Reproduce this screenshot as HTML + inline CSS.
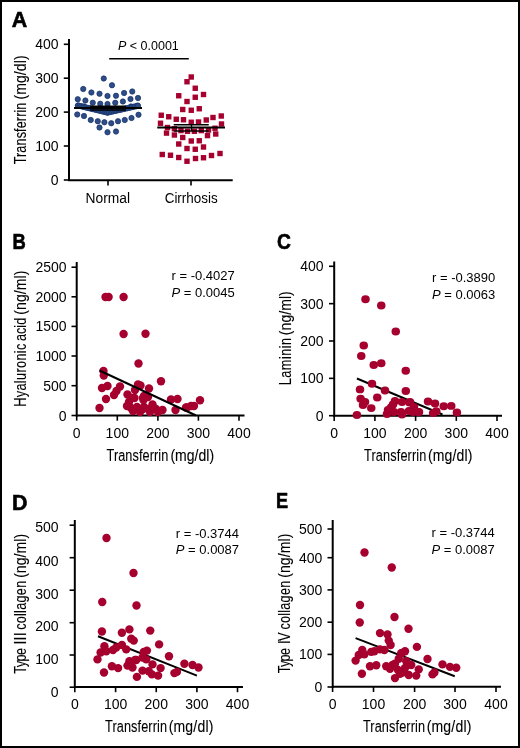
<!DOCTYPE html><html><head><meta charset="utf-8"><style>html,body{margin:0;padding:0;background:#fff}svg{display:block;will-change:transform}text{font-family:"Liberation Sans",sans-serif}</style></head><body>
<svg width="520" height="748" viewBox="0 0 520 748">
<rect x="0" y="0" width="520" height="748" fill="#fff"/>
<rect x="1" y="1" width="518" height="746" fill="none" stroke="#000" stroke-width="2"/>
<text transform="translate(11.8,26.8) scale(1.0,1)" x="0" y="0" font-size="21.4" font-weight="bold" fill="#000" stroke="#000" stroke-width="0.6">A</text>
<line x1="69" y1="39" x2="69" y2="181" stroke="#000" stroke-width="2"/>
<line x1="63.8" y1="44.3" x2="69" y2="44.3" stroke="#000" stroke-width="1.6"/>
<line x1="63.8" y1="78.2" x2="69" y2="78.2" stroke="#000" stroke-width="1.6"/>
<line x1="63.8" y1="112.1" x2="69" y2="112.1" stroke="#000" stroke-width="1.6"/>
<line x1="63.8" y1="146" x2="69" y2="146" stroke="#000" stroke-width="1.6"/>
<line x1="63.8" y1="180" x2="69" y2="180" stroke="#000" stroke-width="1.6"/>
<text x="58.6" y="48.9" font-size="14" text-anchor="end" fill="#000" >400</text>
<text x="58.6" y="82.8" font-size="14" text-anchor="end" fill="#000" >300</text>
<text x="58.6" y="116.69999999999999" font-size="14" text-anchor="end" fill="#000" >200</text>
<text x="58.6" y="150.6" font-size="14" text-anchor="end" fill="#000" >100</text>
<text x="58.6" y="184.6" font-size="14" text-anchor="end" fill="#000" >0</text>
<line x1="68" y1="180.2" x2="232.7" y2="180.2" stroke="#000" stroke-width="2"/>
<line x1="108" y1="180.2" x2="108" y2="185.5" stroke="#000" stroke-width="1.6"/>
<line x1="191" y1="180.2" x2="191" y2="185.5" stroke="#000" stroke-width="1.6"/>
<text x="107.8" y="202.8" font-size="14" text-anchor="middle" textLength="44.5" lengthAdjust="spacingAndGlyphs" fill="#000" >Normal</text>
<text x="191.2" y="202.8" font-size="14" text-anchor="middle" textLength="53" lengthAdjust="spacingAndGlyphs" fill="#000" >Cirrhosis</text>
<text x="118" y="50.2" font-size="12.5" fill="#000"><tspan font-style="italic">P</tspan> &lt; 0.0001</text>
<line x1="109.2" y1="58.8" x2="188.8" y2="58.8" stroke="#000" stroke-width="1.5"/>
<text transform="translate(26,164.29) rotate(-90) scale(0.78,1)" x="0" y="0" font-size="16.3" textLength="79.12" lengthAdjust="spacing" fill="#000" stroke="#000" stroke-width="0.1">Transferrin</text>
<text transform="translate(26,99.57) rotate(-90) scale(0.86,1)" x="0" y="0" font-size="16.3" textLength="51.31" lengthAdjust="spacing" fill="#000" stroke="#000" stroke-width="0.1">(mg/dl)</text>
<circle cx="103.75" cy="78.5" r="2.65" fill="#2f4c84" stroke="#183670" stroke-width="0.75"/>
<circle cx="112" cy="85.25" r="2.65" fill="#2f4c84" stroke="#183670" stroke-width="0.75"/>
<circle cx="83.25" cy="89" r="2.65" fill="#2f4c84" stroke="#183670" stroke-width="0.75"/>
<circle cx="91.4" cy="92.5" r="2.65" fill="#2f4c84" stroke="#183670" stroke-width="0.75"/>
<circle cx="99.5" cy="93.75" r="2.65" fill="#2f4c84" stroke="#183670" stroke-width="0.75"/>
<circle cx="107.5" cy="96" r="2.65" fill="#2f4c84" stroke="#183670" stroke-width="0.75"/>
<circle cx="116" cy="95.75" r="2.65" fill="#2f4c84" stroke="#183670" stroke-width="0.75"/>
<circle cx="124.1" cy="93" r="2.65" fill="#2f4c84" stroke="#183670" stroke-width="0.75"/>
<circle cx="132.25" cy="91.5" r="2.65" fill="#2f4c84" stroke="#183670" stroke-width="0.75"/>
<circle cx="77.75" cy="99.25" r="2.65" fill="#2f4c84" stroke="#183670" stroke-width="0.75"/>
<circle cx="85.4" cy="100.5" r="2.65" fill="#2f4c84" stroke="#183670" stroke-width="0.75"/>
<circle cx="92.75" cy="102.75" r="2.65" fill="#2f4c84" stroke="#183670" stroke-width="0.75"/>
<circle cx="100.25" cy="103.75" r="2.65" fill="#2f4c84" stroke="#183670" stroke-width="0.75"/>
<circle cx="107.5" cy="104" r="2.65" fill="#2f4c84" stroke="#183670" stroke-width="0.75"/>
<circle cx="115.25" cy="102.75" r="2.65" fill="#2f4c84" stroke="#183670" stroke-width="0.75"/>
<circle cx="122.9" cy="101.5" r="2.65" fill="#2f4c84" stroke="#183670" stroke-width="0.75"/>
<circle cx="130.5" cy="99" r="2.65" fill="#2f4c84" stroke="#183670" stroke-width="0.75"/>
<circle cx="138" cy="98" r="2.65" fill="#2f4c84" stroke="#183670" stroke-width="0.75"/>
<circle cx="78" cy="105.6" r="2.65" fill="#2f4c84" stroke="#183670" stroke-width="0.75"/>
<circle cx="137.5" cy="105.6" r="2.65" fill="#2f4c84" stroke="#183670" stroke-width="0.75"/>
<circle cx="84" cy="106.5" r="2.65" fill="#2f4c84" stroke="#183670" stroke-width="0.75"/>
<circle cx="131" cy="106.5" r="2.65" fill="#2f4c84" stroke="#183670" stroke-width="0.75"/>
<circle cx="77.25" cy="114.5" r="2.65" fill="#2f4c84" stroke="#183670" stroke-width="0.75"/>
<circle cx="84" cy="116" r="2.65" fill="#2f4c84" stroke="#183670" stroke-width="0.75"/>
<circle cx="90.75" cy="120" r="2.65" fill="#2f4c84" stroke="#183670" stroke-width="0.75"/>
<circle cx="97.75" cy="121.25" r="2.65" fill="#2f4c84" stroke="#183670" stroke-width="0.75"/>
<circle cx="104.4" cy="122.25" r="2.65" fill="#2f4c84" stroke="#183670" stroke-width="0.75"/>
<circle cx="111.25" cy="123.25" r="2.65" fill="#2f4c84" stroke="#183670" stroke-width="0.75"/>
<circle cx="118" cy="121.25" r="2.65" fill="#2f4c84" stroke="#183670" stroke-width="0.75"/>
<circle cx="124.75" cy="120" r="2.65" fill="#2f4c84" stroke="#183670" stroke-width="0.75"/>
<circle cx="131.5" cy="118" r="2.65" fill="#2f4c84" stroke="#183670" stroke-width="0.75"/>
<circle cx="138.5" cy="114.75" r="2.65" fill="#2f4c84" stroke="#183670" stroke-width="0.75"/>
<circle cx="99.5" cy="127.5" r="2.65" fill="#2f4c84" stroke="#183670" stroke-width="0.75"/>
<circle cx="107.5" cy="132.25" r="2.65" fill="#2f4c84" stroke="#183670" stroke-width="0.75"/>
<circle cx="116" cy="131.5" r="2.65" fill="#2f4c84" stroke="#183670" stroke-width="0.75"/>
<circle cx="78.0" cy="105.5" r="2.65" fill="#2f4c84" stroke="#183670" stroke-width="0.75"/>
<circle cx="79.47" cy="105.86" r="2.65" fill="#2f4c84" stroke="#183670" stroke-width="0.75"/>
<circle cx="80.95" cy="106.21" r="2.65" fill="#2f4c84" stroke="#183670" stroke-width="0.75"/>
<circle cx="82.42" cy="106.56" r="2.65" fill="#2f4c84" stroke="#183670" stroke-width="0.75"/>
<circle cx="83.9" cy="106.92" r="2.65" fill="#2f4c84" stroke="#183670" stroke-width="0.75"/>
<circle cx="85.38" cy="107.28" r="2.65" fill="#2f4c84" stroke="#183670" stroke-width="0.75"/>
<circle cx="86.85" cy="107.63" r="2.65" fill="#2f4c84" stroke="#183670" stroke-width="0.75"/>
<circle cx="88.32" cy="107.98" r="2.65" fill="#2f4c84" stroke="#183670" stroke-width="0.75"/>
<circle cx="89.8" cy="108.34" r="2.65" fill="#2f4c84" stroke="#183670" stroke-width="0.75"/>
<circle cx="91.28" cy="108.7" r="2.65" fill="#2f4c84" stroke="#183670" stroke-width="0.75"/>
<circle cx="92.75" cy="109.05" r="2.65" fill="#2f4c84" stroke="#183670" stroke-width="0.75"/>
<circle cx="94.22" cy="109.4" r="2.65" fill="#2f4c84" stroke="#183670" stroke-width="0.75"/>
<circle cx="95.7" cy="109.76" r="2.65" fill="#2f4c84" stroke="#183670" stroke-width="0.75"/>
<circle cx="97.18" cy="110.12" r="2.65" fill="#2f4c84" stroke="#183670" stroke-width="0.75"/>
<circle cx="98.65" cy="110.47" r="2.65" fill="#2f4c84" stroke="#183670" stroke-width="0.75"/>
<circle cx="100.12" cy="110.82" r="2.65" fill="#2f4c84" stroke="#183670" stroke-width="0.75"/>
<circle cx="101.6" cy="111.18" r="2.65" fill="#2f4c84" stroke="#183670" stroke-width="0.75"/>
<circle cx="103.08" cy="111.54" r="2.65" fill="#2f4c84" stroke="#183670" stroke-width="0.75"/>
<circle cx="104.55" cy="111.89" r="2.65" fill="#2f4c84" stroke="#183670" stroke-width="0.75"/>
<circle cx="106.02" cy="112.24" r="2.65" fill="#2f4c84" stroke="#183670" stroke-width="0.75"/>
<circle cx="107.5" cy="112.6" r="2.65" fill="#2f4c84" stroke="#183670" stroke-width="0.75"/>
<circle cx="107.5" cy="112.6" r="2.65" fill="#2f4c84" stroke="#183670" stroke-width="0.75"/>
<circle cx="109.02" cy="112.26" r="2.65" fill="#2f4c84" stroke="#183670" stroke-width="0.75"/>
<circle cx="110.55" cy="111.92" r="2.65" fill="#2f4c84" stroke="#183670" stroke-width="0.75"/>
<circle cx="112.08" cy="111.58" r="2.65" fill="#2f4c84" stroke="#183670" stroke-width="0.75"/>
<circle cx="113.6" cy="111.24" r="2.65" fill="#2f4c84" stroke="#183670" stroke-width="0.75"/>
<circle cx="115.12" cy="110.9" r="2.65" fill="#2f4c84" stroke="#183670" stroke-width="0.75"/>
<circle cx="116.65" cy="110.56" r="2.65" fill="#2f4c84" stroke="#183670" stroke-width="0.75"/>
<circle cx="118.18" cy="110.22" r="2.65" fill="#2f4c84" stroke="#183670" stroke-width="0.75"/>
<circle cx="119.7" cy="109.88" r="2.65" fill="#2f4c84" stroke="#183670" stroke-width="0.75"/>
<circle cx="121.22" cy="109.54" r="2.65" fill="#2f4c84" stroke="#183670" stroke-width="0.75"/>
<circle cx="122.75" cy="109.2" r="2.65" fill="#2f4c84" stroke="#183670" stroke-width="0.75"/>
<circle cx="124.28" cy="108.86" r="2.65" fill="#2f4c84" stroke="#183670" stroke-width="0.75"/>
<circle cx="125.8" cy="108.52" r="2.65" fill="#2f4c84" stroke="#183670" stroke-width="0.75"/>
<circle cx="127.32" cy="108.18" r="2.65" fill="#2f4c84" stroke="#183670" stroke-width="0.75"/>
<circle cx="128.85" cy="107.84" r="2.65" fill="#2f4c84" stroke="#183670" stroke-width="0.75"/>
<circle cx="130.38" cy="107.5" r="2.65" fill="#2f4c84" stroke="#183670" stroke-width="0.75"/>
<circle cx="131.9" cy="107.16" r="2.65" fill="#2f4c84" stroke="#183670" stroke-width="0.75"/>
<circle cx="133.43" cy="106.82" r="2.65" fill="#2f4c84" stroke="#183670" stroke-width="0.75"/>
<circle cx="134.95" cy="106.48" r="2.65" fill="#2f4c84" stroke="#183670" stroke-width="0.75"/>
<circle cx="136.48" cy="106.14" r="2.65" fill="#2f4c84" stroke="#183670" stroke-width="0.75"/>
<circle cx="138.0" cy="105.8" r="2.65" fill="#2f4c84" stroke="#183670" stroke-width="0.75"/>
<line x1="74" y1="108" x2="142" y2="108" stroke="#000" stroke-width="2"/>
<line x1="90" y1="106.2" x2="126" y2="106.2" stroke="#000" stroke-width="1.4"/>
<line x1="90" y1="110" x2="126" y2="110" stroke="#000" stroke-width="1.4"/>
<line x1="108" y1="106.2" x2="108" y2="110" stroke="#000" stroke-width="1.4"/>
<rect x="188.55" y="74.3" width="5.4" height="5.4" fill="#a6002f"/>
<rect x="184.3" y="79.05" width="5.4" height="5.4" fill="#a6002f"/>
<rect x="192.55" y="85.55" width="5.4" height="5.4" fill="#a6002f"/>
<rect x="176.05" y="93.05" width="5.4" height="5.4" fill="#a6002f"/>
<rect x="192.55" y="94.55" width="5.4" height="5.4" fill="#a6002f"/>
<rect x="200.8" y="91.8" width="5.4" height="5.4" fill="#a6002f"/>
<rect x="184.3" y="98.8" width="5.4" height="5.4" fill="#a6002f"/>
<rect x="180.05" y="106.8" width="5.4" height="5.4" fill="#a6002f"/>
<rect x="188.55" y="107.55" width="5.4" height="5.4" fill="#a6002f"/>
<rect x="196.55" y="106.05" width="5.4" height="5.4" fill="#a6002f"/>
<rect x="158.55" y="112.55" width="5.4" height="5.4" fill="#a6002f"/>
<rect x="166.05" y="114.05" width="5.4" height="5.4" fill="#a6002f"/>
<rect x="173.55" y="116.55" width="5.4" height="5.4" fill="#a6002f"/>
<rect x="180.8" y="117.05" width="5.4" height="5.4" fill="#a6002f"/>
<rect x="188.55" y="119.55" width="5.4" height="5.4" fill="#a6002f"/>
<rect x="195.8" y="119.3" width="5.4" height="5.4" fill="#a6002f"/>
<rect x="203.55" y="117.3" width="5.4" height="5.4" fill="#a6002f"/>
<rect x="210.3" y="114.8" width="5.4" height="5.4" fill="#a6002f"/>
<rect x="218.55" y="113.3" width="5.4" height="5.4" fill="#a6002f"/>
<rect x="157.8" y="120.55" width="5.4" height="5.4" fill="#a6002f"/>
<rect x="218.8" y="121.3" width="5.4" height="5.4" fill="#a6002f"/>
<rect x="164.8" y="124.8" width="5.4" height="5.4" fill="#a6002f"/>
<rect x="171.70000000000002" y="126.05" width="5.4" height="5.4" fill="#a6002f"/>
<rect x="205.8" y="127.3" width="5.4" height="5.4" fill="#a6002f"/>
<rect x="212.3" y="125.55" width="5.4" height="5.4" fill="#a6002f"/>
<rect x="163.8" y="130.4" width="5.4" height="5.4" fill="#a6002f"/>
<rect x="171.70000000000002" y="132.3" width="5.4" height="5.4" fill="#a6002f"/>
<rect x="178.3" y="127.89999999999999" width="5.4" height="5.4" fill="#a6002f"/>
<rect x="184.8" y="128.55" width="5.4" height="5.4" fill="#a6002f"/>
<rect x="191.70000000000002" y="128.55" width="5.4" height="5.4" fill="#a6002f"/>
<rect x="198.55" y="127.89999999999999" width="5.4" height="5.4" fill="#a6002f"/>
<rect x="204.8" y="132.9" width="5.4" height="5.4" fill="#a6002f"/>
<rect x="213.05" y="131.3" width="5.4" height="5.4" fill="#a6002f"/>
<rect x="180.05" y="134.8" width="5.4" height="5.4" fill="#a6002f"/>
<rect x="188.55" y="138.3" width="5.4" height="5.4" fill="#a6002f"/>
<rect x="196.55" y="138.05" width="5.4" height="5.4" fill="#a6002f"/>
<rect x="176.05" y="141.3" width="5.4" height="5.4" fill="#a6002f"/>
<rect x="184.3" y="145.8" width="5.4" height="5.4" fill="#a6002f"/>
<rect x="192.55" y="146.55" width="5.4" height="5.4" fill="#a6002f"/>
<rect x="200.8" y="144.3" width="5.4" height="5.4" fill="#a6002f"/>
<rect x="159.55" y="151.8" width="5.4" height="5.4" fill="#a6002f"/>
<rect x="167.8" y="152.55" width="5.4" height="5.4" fill="#a6002f"/>
<rect x="176.05" y="154.8" width="5.4" height="5.4" fill="#a6002f"/>
<rect x="184.3" y="158.55" width="5.4" height="5.4" fill="#a6002f"/>
<rect x="192.8" y="155.8" width="5.4" height="5.4" fill="#a6002f"/>
<rect x="200.8" y="155.05" width="5.4" height="5.4" fill="#a6002f"/>
<rect x="208.8" y="152.8" width="5.4" height="5.4" fill="#a6002f"/>
<rect x="217.3" y="150.8" width="5.4" height="5.4" fill="#a6002f"/>
<line x1="157.25" y1="127.5" x2="225" y2="127.5" stroke="#000" stroke-width="2"/>
<line x1="173.75" y1="124.75" x2="208.75" y2="124.75" stroke="#000" stroke-width="1.4"/>
<line x1="173.75" y1="131" x2="208.75" y2="131" stroke="#000" stroke-width="1.4"/>
<line x1="191.5" y1="124.75" x2="191.5" y2="131" stroke="#000" stroke-width="1.4"/>
<text transform="translate(12.4,249.3) scale(0.86,1)" x="0" y="0" font-size="21.4" font-weight="bold" fill="#000" stroke="#000" stroke-width="0.6">B</text>
<line x1="76.7" y1="262" x2="76.7" y2="416.5" stroke="#000" stroke-width="2"/>
<line x1="71.5" y1="267.2" x2="76.7" y2="267.2" stroke="#000" stroke-width="1.6"/>
<line x1="71.5" y1="296.8" x2="76.7" y2="296.8" stroke="#000" stroke-width="1.6"/>
<line x1="71.5" y1="326.4" x2="76.7" y2="326.4" stroke="#000" stroke-width="1.6"/>
<line x1="71.5" y1="356" x2="76.7" y2="356" stroke="#000" stroke-width="1.6"/>
<line x1="71.5" y1="385.7" x2="76.7" y2="385.7" stroke="#000" stroke-width="1.6"/>
<line x1="71.5" y1="415.5" x2="76.7" y2="415.5" stroke="#000" stroke-width="1.6"/>
<text x="66.6" y="272.2" font-size="14" text-anchor="end" fill="#000" >2500</text>
<text x="66.6" y="301.8" font-size="14" text-anchor="end" fill="#000" >2000</text>
<text x="66.6" y="331.4" font-size="14" text-anchor="end" fill="#000" >1500</text>
<text x="66.6" y="361" font-size="14" text-anchor="end" fill="#000" >1000</text>
<text x="66.6" y="390.7" font-size="14" text-anchor="end" fill="#000" >500</text>
<text x="66.6" y="420.5" font-size="14" text-anchor="end" fill="#000" >0</text>
<line x1="76" y1="415.5" x2="244.5" y2="415.5" stroke="#000" stroke-width="2"/>
<line x1="76.7" y1="415.5" x2="76.7" y2="420.7" stroke="#000" stroke-width="1.6"/>
<line x1="117.3" y1="415.5" x2="117.3" y2="420.7" stroke="#000" stroke-width="1.6"/>
<line x1="157.9" y1="415.5" x2="157.9" y2="420.7" stroke="#000" stroke-width="1.6"/>
<line x1="198.4" y1="415.5" x2="198.4" y2="420.7" stroke="#000" stroke-width="1.6"/>
<line x1="239" y1="415.5" x2="239" y2="420.7" stroke="#000" stroke-width="1.6"/>
<text x="76.7" y="438" font-size="14" text-anchor="middle" fill="#000" >0</text>
<text x="117.3" y="438" font-size="14" text-anchor="middle" fill="#000" >100</text>
<text x="157.9" y="438" font-size="14" text-anchor="middle" fill="#000" >200</text>
<text x="198.4" y="438" font-size="14" text-anchor="middle" fill="#000" >300</text>
<text x="239" y="438" font-size="14" text-anchor="middle" fill="#000" >400</text>
<text transform="translate(106.51,460.5) scale(0.78,1)" x="0" y="0" font-size="16.3" textLength="79.25" lengthAdjust="spacing" fill="#000" stroke="#000" stroke-width="0.1">Transferrin</text>
<text transform="translate(170.43,460.5) scale(0.86,1)" x="0" y="0" font-size="16.3" textLength="50.85" lengthAdjust="spacing" fill="#000" stroke="#000" stroke-width="0.1">(mg/dl)</text>
<text transform="translate(26,406.75) rotate(-90) scale(0.78,1)" x="0" y="0" font-size="16.3" textLength="80.87" lengthAdjust="spacing" fill="#000" stroke="#000" stroke-width="0.1">Hyaluronic</text>
<text transform="translate(26,340.94) rotate(-90) scale(0.78,1)" x="0" y="0" font-size="16.3" textLength="29.69" lengthAdjust="spacing" fill="#000" stroke="#000" stroke-width="0.1">acid</text>
<text transform="translate(26,314.67) rotate(-90) scale(0.86,1)" x="0" y="0" font-size="16.3" textLength="51.31" lengthAdjust="spacing" fill="#000" stroke="#000" stroke-width="0.1">(ng/ml)</text>
<text x="171.5" y="279.6" font-size="13" fill="#000" >r = -0.4027</text>
<text x="171.5" y="296.5" font-size="13" fill="#000"><tspan font-style="italic">P</tspan> = 0.0045</text>
<circle cx="105.5" cy="297" r="4.2" fill="#a6002f"/>
<circle cx="108.6" cy="297" r="4.2" fill="#a6002f"/>
<circle cx="123.6" cy="297" r="4.2" fill="#a6002f"/>
<circle cx="123.6" cy="334" r="4.2" fill="#a6002f"/>
<circle cx="145.5" cy="333.75" r="4.2" fill="#a6002f"/>
<circle cx="138.5" cy="363.5" r="4.2" fill="#a6002f"/>
<circle cx="103.5" cy="371" r="4.2" fill="#a6002f"/>
<circle cx="103.8" cy="375.5" r="4.2" fill="#a6002f"/>
<circle cx="161" cy="381.2" r="4.2" fill="#a6002f"/>
<circle cx="102" cy="388" r="4.2" fill="#a6002f"/>
<circle cx="107.5" cy="386" r="4.2" fill="#a6002f"/>
<circle cx="120" cy="386.5" r="4.2" fill="#a6002f"/>
<circle cx="116.5" cy="391" r="4.2" fill="#a6002f"/>
<circle cx="114" cy="395" r="4.2" fill="#a6002f"/>
<circle cx="106" cy="399" r="4.2" fill="#a6002f"/>
<circle cx="99.5" cy="408" r="4.2" fill="#a6002f"/>
<circle cx="127.5" cy="394.5" r="4.2" fill="#a6002f"/>
<circle cx="138" cy="384.5" r="4.2" fill="#a6002f"/>
<circle cx="135" cy="390" r="4.2" fill="#a6002f"/>
<circle cx="134.5" cy="398" r="4.2" fill="#a6002f"/>
<circle cx="131" cy="408" r="4.2" fill="#a6002f"/>
<circle cx="137" cy="407" r="4.2" fill="#a6002f"/>
<circle cx="143" cy="398" r="4.2" fill="#a6002f"/>
<circle cx="144" cy="407" r="4.2" fill="#a6002f"/>
<circle cx="140.5" cy="385.5" r="4.2" fill="#a6002f"/>
<circle cx="149" cy="388.5" r="4.2" fill="#a6002f"/>
<circle cx="144" cy="396" r="4.2" fill="#a6002f"/>
<circle cx="148" cy="397" r="4.2" fill="#a6002f"/>
<circle cx="143.5" cy="400" r="4.2" fill="#a6002f"/>
<circle cx="152.5" cy="404.5" r="4.2" fill="#a6002f"/>
<circle cx="143" cy="409" r="4.2" fill="#a6002f"/>
<circle cx="149" cy="409" r="4.2" fill="#a6002f"/>
<circle cx="156" cy="409" r="4.2" fill="#a6002f"/>
<circle cx="162.5" cy="410" r="4.2" fill="#a6002f"/>
<circle cx="171" cy="399.5" r="4.2" fill="#a6002f"/>
<circle cx="177.5" cy="399" r="4.2" fill="#a6002f"/>
<circle cx="175.5" cy="410" r="4.2" fill="#a6002f"/>
<circle cx="186" cy="407.5" r="4.2" fill="#a6002f"/>
<circle cx="191" cy="406" r="4.2" fill="#a6002f"/>
<circle cx="194" cy="406" r="4.2" fill="#a6002f"/>
<circle cx="200" cy="400.25" r="4.2" fill="#a6002f"/>
<circle cx="186.9" cy="407.5" r="4.2" fill="#a6002f"/>
<circle cx="129" cy="402" r="4.2" fill="#a6002f"/>
<circle cx="131" cy="398" r="4.2" fill="#a6002f"/>
<circle cx="127" cy="406" r="4.2" fill="#a6002f"/>
<circle cx="133" cy="411" r="4.2" fill="#a6002f"/>
<circle cx="140" cy="412" r="4.2" fill="#a6002f"/>
<circle cx="150" cy="412" r="4.2" fill="#a6002f"/>
<circle cx="158" cy="412" r="4.2" fill="#a6002f"/>
<line x1="99.5" y1="370.5" x2="196" y2="415.5" stroke="#000" stroke-width="2"/>
<text transform="translate(277.1,248.6) scale(0.9,1)" x="0" y="0" font-size="21.4" font-weight="bold" fill="#000" stroke="#000" stroke-width="0.6">C</text>
<line x1="334.2" y1="261.5" x2="334.2" y2="416.7" stroke="#000" stroke-width="2"/>
<line x1="329.0" y1="266.3" x2="334.2" y2="266.3" stroke="#000" stroke-width="1.6"/>
<line x1="329.0" y1="303.65" x2="334.2" y2="303.65" stroke="#000" stroke-width="1.6"/>
<line x1="329.0" y1="341" x2="334.2" y2="341" stroke="#000" stroke-width="1.6"/>
<line x1="329.0" y1="378.35" x2="334.2" y2="378.35" stroke="#000" stroke-width="1.6"/>
<line x1="329.0" y1="415.7" x2="334.2" y2="415.7" stroke="#000" stroke-width="1.6"/>
<text x="323.6" y="271.3" font-size="14" text-anchor="end" fill="#000" >400</text>
<text x="323.6" y="308.65" font-size="14" text-anchor="end" fill="#000" >300</text>
<text x="323.6" y="346" font-size="14" text-anchor="end" fill="#000" >200</text>
<text x="323.6" y="383.35" font-size="14" text-anchor="end" fill="#000" >100</text>
<text x="323.6" y="420.7" font-size="14" text-anchor="end" fill="#000" >0</text>
<line x1="333" y1="415.7" x2="502" y2="415.7" stroke="#000" stroke-width="2"/>
<line x1="334.2" y1="415.7" x2="334.2" y2="420.9" stroke="#000" stroke-width="1.6"/>
<line x1="374.9" y1="415.7" x2="374.9" y2="420.9" stroke="#000" stroke-width="1.6"/>
<line x1="415.6" y1="415.7" x2="415.6" y2="420.9" stroke="#000" stroke-width="1.6"/>
<line x1="456.3" y1="415.7" x2="456.3" y2="420.9" stroke="#000" stroke-width="1.6"/>
<line x1="497" y1="415.7" x2="497" y2="420.9" stroke="#000" stroke-width="1.6"/>
<text x="334.2" y="438" font-size="14" text-anchor="middle" fill="#000" >0</text>
<text x="374.9" y="438" font-size="14" text-anchor="middle" fill="#000" >100</text>
<text x="415.6" y="438" font-size="14" text-anchor="middle" fill="#000" >200</text>
<text x="456.3" y="438" font-size="14" text-anchor="middle" fill="#000" >300</text>
<text x="497" y="438" font-size="14" text-anchor="middle" fill="#000" >400</text>
<text transform="translate(364.01,460.5) scale(0.78,1)" x="0" y="0" font-size="16.3" textLength="80.02" lengthAdjust="spacing" fill="#000" stroke="#000" stroke-width="0.1">Transferrin</text>
<text transform="translate(427.93,460.5) scale(0.86,1)" x="0" y="0" font-size="16.3" textLength="51.78" lengthAdjust="spacing" fill="#000" stroke="#000" stroke-width="0.1">(mg/dl)</text>
<text transform="translate(290.9,385.25) rotate(-90) scale(0.78,1)" x="0" y="0" font-size="16.3" textLength="60.72" lengthAdjust="spacing" fill="#000" stroke="#000" stroke-width="0.1">Laminin</text>
<text transform="translate(290.9,335.17) rotate(-90) scale(0.86,1)" x="0" y="0" font-size="16.3" textLength="51.08" lengthAdjust="spacing" fill="#000" stroke="#000" stroke-width="0.1">(ng/ml)</text>
<text x="432" y="282" font-size="13" fill="#000" >r = -0.3890</text>
<text x="432" y="298.8" font-size="13" fill="#000"><tspan font-style="italic">P</tspan> = 0.0063</text>
<line x1="356.9" y1="378.5" x2="442.5" y2="414.5" stroke="#000" stroke-width="1.9"/>
<ellipse cx="365.5" cy="299.25" rx="4.25" ry="3.95" fill="#a6002f"/>
<ellipse cx="381.25" cy="305.5" rx="4.25" ry="3.95" fill="#a6002f"/>
<ellipse cx="395.75" cy="331.5" rx="4.25" ry="3.95" fill="#a6002f"/>
<ellipse cx="363.75" cy="345.5" rx="4.25" ry="3.95" fill="#a6002f"/>
<ellipse cx="361.25" cy="356" rx="4.25" ry="3.95" fill="#a6002f"/>
<ellipse cx="373.75" cy="365" rx="4.25" ry="3.95" fill="#a6002f"/>
<ellipse cx="381.25" cy="363.25" rx="4.25" ry="3.95" fill="#a6002f"/>
<ellipse cx="405.75" cy="370.75" rx="4.25" ry="3.95" fill="#a6002f"/>
<ellipse cx="372" cy="383.75" rx="4.25" ry="3.95" fill="#a6002f"/>
<ellipse cx="360" cy="389.4" rx="4.25" ry="3.95" fill="#a6002f"/>
<ellipse cx="385" cy="390.5" rx="4.25" ry="3.95" fill="#a6002f"/>
<ellipse cx="405.8" cy="391" rx="4.25" ry="3.95" fill="#a6002f"/>
<ellipse cx="377.25" cy="397.5" rx="4.25" ry="3.95" fill="#a6002f"/>
<ellipse cx="360.6" cy="398.75" rx="4.25" ry="3.95" fill="#a6002f"/>
<ellipse cx="365" cy="401.9" rx="4.25" ry="3.95" fill="#a6002f"/>
<ellipse cx="363" cy="405" rx="4.25" ry="3.95" fill="#a6002f"/>
<ellipse cx="371.25" cy="408.1" rx="4.25" ry="3.95" fill="#a6002f"/>
<ellipse cx="356.9" cy="415" rx="4.25" ry="3.95" fill="#a6002f"/>
<ellipse cx="395" cy="401" rx="4.25" ry="3.95" fill="#a6002f"/>
<ellipse cx="402" cy="402" rx="4.25" ry="3.95" fill="#a6002f"/>
<ellipse cx="410" cy="402" rx="4.25" ry="3.95" fill="#a6002f"/>
<ellipse cx="393" cy="404.5" rx="4.25" ry="3.95" fill="#a6002f"/>
<ellipse cx="388" cy="410" rx="4.25" ry="3.95" fill="#a6002f"/>
<ellipse cx="387" cy="414" rx="4.25" ry="3.95" fill="#a6002f"/>
<ellipse cx="394" cy="412" rx="4.25" ry="3.95" fill="#a6002f"/>
<ellipse cx="401" cy="412" rx="4.25" ry="3.95" fill="#a6002f"/>
<ellipse cx="402" cy="414.5" rx="4.25" ry="3.95" fill="#a6002f"/>
<ellipse cx="409" cy="411" rx="4.25" ry="3.95" fill="#a6002f"/>
<ellipse cx="413" cy="412" rx="4.25" ry="3.95" fill="#a6002f"/>
<ellipse cx="419" cy="412" rx="4.25" ry="3.95" fill="#a6002f"/>
<ellipse cx="428" cy="401.5" rx="4.25" ry="3.95" fill="#a6002f"/>
<ellipse cx="435" cy="403.5" rx="4.25" ry="3.95" fill="#a6002f"/>
<ellipse cx="443.75" cy="406.25" rx="4.25" ry="3.95" fill="#a6002f"/>
<ellipse cx="451.25" cy="405.9" rx="4.25" ry="3.95" fill="#a6002f"/>
<ellipse cx="456.9" cy="412.5" rx="4.25" ry="3.95" fill="#a6002f"/>
<ellipse cx="433.1" cy="413.1" rx="4.25" ry="3.95" fill="#a6002f"/>
<ellipse cx="436.25" cy="411.25" rx="4.25" ry="3.95" fill="#a6002f"/>
<ellipse cx="418" cy="411.9" rx="4.25" ry="3.95" fill="#a6002f"/>
<ellipse cx="409.4" cy="402.5" rx="4.25" ry="3.95" fill="#a6002f"/>
<ellipse cx="391" cy="407.5" rx="4.25" ry="3.95" fill="#a6002f"/>
<ellipse cx="414" cy="407" rx="4.25" ry="3.95" fill="#a6002f"/>
<text transform="translate(11.9,509.8) scale(1.0,1)" x="0" y="0" font-size="21.4" font-weight="bold" fill="#000" stroke="#000" stroke-width="0.6">D</text>
<line x1="74.8" y1="520" x2="74.8" y2="688" stroke="#000" stroke-width="2"/>
<line x1="69.6" y1="525.2" x2="74.8" y2="525.2" stroke="#000" stroke-width="1.6"/>
<line x1="69.6" y1="557.7" x2="74.8" y2="557.7" stroke="#000" stroke-width="1.6"/>
<line x1="69.6" y1="590.2" x2="74.8" y2="590.2" stroke="#000" stroke-width="1.6"/>
<line x1="69.6" y1="622.7" x2="74.8" y2="622.7" stroke="#000" stroke-width="1.6"/>
<line x1="69.6" y1="655" x2="74.8" y2="655" stroke="#000" stroke-width="1.6"/>
<line x1="69.6" y1="687.2" x2="74.8" y2="687.2" stroke="#000" stroke-width="1.6"/>
<text x="58.6" y="532" font-size="14" text-anchor="end" fill="#000" >500</text>
<text x="58.6" y="565.7" font-size="14" text-anchor="end" fill="#000" >400</text>
<text x="58.6" y="598.7" font-size="14" text-anchor="end" fill="#000" >300</text>
<text x="58.6" y="631.3" font-size="14" text-anchor="end" fill="#000" >200</text>
<text x="58.6" y="664" font-size="14" text-anchor="end" fill="#000" >100</text>
<text x="58.6" y="697.3" font-size="14" text-anchor="end" fill="#000" >0</text>
<line x1="74" y1="687" x2="243" y2="687" stroke="#000" stroke-width="2"/>
<line x1="74.8" y1="687" x2="74.8" y2="692.2" stroke="#000" stroke-width="1.6"/>
<line x1="115.6" y1="687" x2="115.6" y2="692.2" stroke="#000" stroke-width="1.6"/>
<line x1="156.25" y1="687" x2="156.25" y2="692.2" stroke="#000" stroke-width="1.6"/>
<line x1="196.9" y1="687" x2="196.9" y2="692.2" stroke="#000" stroke-width="1.6"/>
<line x1="237.5" y1="687" x2="237.5" y2="692.2" stroke="#000" stroke-width="1.6"/>
<text x="74.8" y="709" font-size="14" text-anchor="middle" fill="#000" >0</text>
<text x="115.6" y="709" font-size="14" text-anchor="middle" fill="#000" >100</text>
<text x="156.25" y="709" font-size="14" text-anchor="middle" fill="#000" >200</text>
<text x="196.9" y="709" font-size="14" text-anchor="middle" fill="#000" >300</text>
<text x="237.5" y="709" font-size="14" text-anchor="middle" fill="#000" >400</text>
<text transform="translate(105.01,731.7) scale(0.78,1)" x="0" y="0" font-size="16.3" textLength="79.51" lengthAdjust="spacing" fill="#000" stroke="#000" stroke-width="0.1">Transferrin</text>
<text transform="translate(168.63,731.7) scale(0.86,1)" x="0" y="0" font-size="16.3" textLength="52.13" lengthAdjust="spacing" fill="#000" stroke="#000" stroke-width="0.1">(mg/dl)</text>
<text transform="translate(26,673.79) rotate(-90) scale(0.78,1)" x="0" y="0" font-size="16.3" textLength="33.02" lengthAdjust="spacing" fill="#000" stroke="#000" stroke-width="0.1">Type</text>
<text transform="translate(26,644.55) rotate(-90) scale(0.9,1)" x="0" y="0" font-size="16.3" textLength="13.79" lengthAdjust="spacing" fill="#000" stroke="#000" stroke-width="0.1">III</text>
<text transform="translate(26,629.84) rotate(-90) scale(0.78,1)" x="0" y="0" font-size="16.3" textLength="62.90" lengthAdjust="spacing" fill="#000" stroke="#000" stroke-width="0.1">collagen</text>
<text transform="translate(26,577.87) rotate(-90) scale(0.86,1)" x="0" y="0" font-size="16.3" textLength="51.20" lengthAdjust="spacing" fill="#000" stroke="#000" stroke-width="0.1">(ng/ml)</text>
<text x="175.8" y="537.7" font-size="13" fill="#000" >r = -0.3744</text>
<text x="175.8" y="554" font-size="13" fill="#000"><tspan font-style="italic">P</tspan> = 0.0087</text>
<line x1="98" y1="636.25" x2="196.9" y2="675.6" stroke="#000" stroke-width="1.9"/>
<circle cx="106.5" cy="538" r="4.2" fill="#a6002f"/>
<circle cx="133.5" cy="573" r="4.2" fill="#a6002f"/>
<circle cx="102.25" cy="602" r="4.2" fill="#a6002f"/>
<circle cx="136.5" cy="605.5" r="4.2" fill="#a6002f"/>
<circle cx="101.9" cy="631.5" r="4.2" fill="#a6002f"/>
<circle cx="121.9" cy="632.75" r="4.2" fill="#a6002f"/>
<circle cx="129.4" cy="629.4" r="4.2" fill="#a6002f"/>
<circle cx="150.25" cy="630.6" r="4.2" fill="#a6002f"/>
<circle cx="131.25" cy="638.75" r="4.2" fill="#a6002f"/>
<circle cx="133.75" cy="640.6" r="4.2" fill="#a6002f"/>
<circle cx="159.1" cy="644.4" r="4.2" fill="#a6002f"/>
<circle cx="169" cy="656.25" r="4.2" fill="#a6002f"/>
<circle cx="104.4" cy="646.25" r="4.2" fill="#a6002f"/>
<circle cx="100.6" cy="652.5" r="4.2" fill="#a6002f"/>
<circle cx="106.25" cy="651.25" r="4.2" fill="#a6002f"/>
<circle cx="97.5" cy="659.4" r="4.2" fill="#a6002f"/>
<circle cx="113" cy="650" r="4.2" fill="#a6002f"/>
<circle cx="116.25" cy="647.5" r="4.2" fill="#a6002f"/>
<circle cx="121.9" cy="645" r="4.2" fill="#a6002f"/>
<circle cx="126.25" cy="649.4" r="4.2" fill="#a6002f"/>
<circle cx="111.9" cy="666.25" r="4.2" fill="#a6002f"/>
<circle cx="118.1" cy="668.1" r="4.2" fill="#a6002f"/>
<circle cx="104" cy="672.5" r="4.2" fill="#a6002f"/>
<circle cx="129.4" cy="661.25" r="4.2" fill="#a6002f"/>
<circle cx="127.5" cy="665.6" r="4.2" fill="#a6002f"/>
<circle cx="132.5" cy="667.5" r="4.2" fill="#a6002f"/>
<circle cx="135" cy="660" r="4.2" fill="#a6002f"/>
<circle cx="143.75" cy="651.9" r="4.2" fill="#a6002f"/>
<circle cx="146.9" cy="650.6" r="4.2" fill="#a6002f"/>
<circle cx="136.25" cy="660" r="4.2" fill="#a6002f"/>
<circle cx="146.25" cy="659.4" r="4.2" fill="#a6002f"/>
<circle cx="152.5" cy="664.4" r="4.2" fill="#a6002f"/>
<circle cx="160.6" cy="668.1" r="4.2" fill="#a6002f"/>
<circle cx="142.5" cy="670.6" r="4.2" fill="#a6002f"/>
<circle cx="148.75" cy="671.25" r="4.2" fill="#a6002f"/>
<circle cx="151.9" cy="674.4" r="4.2" fill="#a6002f"/>
<circle cx="158.1" cy="675.6" r="4.2" fill="#a6002f"/>
<circle cx="136.9" cy="676.9" r="4.2" fill="#a6002f"/>
<circle cx="174.4" cy="673.1" r="4.2" fill="#a6002f"/>
<circle cx="176.9" cy="671.9" r="4.2" fill="#a6002f"/>
<circle cx="184.4" cy="663.75" r="4.2" fill="#a6002f"/>
<circle cx="192.5" cy="665" r="4.2" fill="#a6002f"/>
<circle cx="198.5" cy="667.5" r="4.2" fill="#a6002f"/>
<circle cx="142.5" cy="657.5" r="4.2" fill="#a6002f"/>
<text transform="translate(276.1,507.6) scale(0.85,1)" x="0" y="0" font-size="21.4" font-weight="bold" fill="#000" stroke="#000" stroke-width="0.6">E</text>
<line x1="332.7" y1="520" x2="332.7" y2="687.8" stroke="#000" stroke-width="2"/>
<line x1="327.5" y1="529" x2="332.7" y2="529" stroke="#000" stroke-width="1.6"/>
<line x1="327.5" y1="557.7" x2="332.7" y2="557.7" stroke="#000" stroke-width="1.6"/>
<line x1="327.5" y1="589.9" x2="332.7" y2="589.9" stroke="#000" stroke-width="1.6"/>
<line x1="327.5" y1="622.2" x2="332.7" y2="622.2" stroke="#000" stroke-width="1.6"/>
<line x1="327.5" y1="654.4" x2="332.7" y2="654.4" stroke="#000" stroke-width="1.6"/>
<line x1="327.5" y1="687" x2="332.7" y2="687" stroke="#000" stroke-width="1.6"/>
<text x="322.3" y="534" font-size="14" text-anchor="end" fill="#000" >500</text>
<text x="322.3" y="562.7" font-size="14" text-anchor="end" fill="#000" >400</text>
<text x="322.3" y="594.9" font-size="14" text-anchor="end" fill="#000" >300</text>
<text x="322.3" y="627.2" font-size="14" text-anchor="end" fill="#000" >200</text>
<text x="322.3" y="659.4" font-size="14" text-anchor="end" fill="#000" >100</text>
<text x="322.3" y="692" font-size="14" text-anchor="end" fill="#000" >0</text>
<line x1="332" y1="686.8" x2="501" y2="686.8" stroke="#000" stroke-width="2"/>
<line x1="332.6" y1="686.8" x2="332.6" y2="692.0" stroke="#000" stroke-width="1.6"/>
<line x1="373.5" y1="686.8" x2="373.5" y2="692.0" stroke="#000" stroke-width="1.6"/>
<line x1="414.6" y1="686.8" x2="414.6" y2="692.0" stroke="#000" stroke-width="1.6"/>
<line x1="455" y1="686.8" x2="455" y2="692.0" stroke="#000" stroke-width="1.6"/>
<line x1="496" y1="686.8" x2="496" y2="692.0" stroke="#000" stroke-width="1.6"/>
<text x="332.6" y="709" font-size="14" text-anchor="middle" fill="#000" >0</text>
<text x="373.5" y="709" font-size="14" text-anchor="middle" fill="#000" >100</text>
<text x="414.6" y="709" font-size="14" text-anchor="middle" fill="#000" >200</text>
<text x="455" y="709" font-size="14" text-anchor="middle" fill="#000" >300</text>
<text x="496" y="709" font-size="14" text-anchor="middle" fill="#000" >400</text>
<text transform="translate(362.91,731.7) scale(0.78,1)" x="0" y="0" font-size="16.3" textLength="79.64" lengthAdjust="spacing" fill="#000" stroke="#000" stroke-width="0.1">Transferrin</text>
<text transform="translate(426.63,731.7) scale(0.86,1)" x="0" y="0" font-size="16.3" textLength="52.13" lengthAdjust="spacing" fill="#000" stroke="#000" stroke-width="0.1">(mg/dl)</text>
<text transform="translate(289.8,673.29) rotate(-90) scale(0.78,1)" x="0" y="0" font-size="16.3" textLength="32.38" lengthAdjust="spacing" fill="#000" stroke="#000" stroke-width="0.1">Type</text>
<text transform="translate(289.8,643.97) rotate(-90) scale(0.78,1)" x="0" y="0" font-size="16.3" textLength="14.78" lengthAdjust="spacing" fill="#000" stroke="#000" stroke-width="0.1">IV</text>
<text transform="translate(289.8,629.44) rotate(-90) scale(0.78,1)" x="0" y="0" font-size="16.3" textLength="62.39" lengthAdjust="spacing" fill="#000" stroke="#000" stroke-width="0.1">collagen</text>
<text transform="translate(289.8,577.87) rotate(-90) scale(0.86,1)" x="0" y="0" font-size="16.3" textLength="51.54" lengthAdjust="spacing" fill="#000" stroke="#000" stroke-width="0.1">(ng/ml)</text>
<text x="431.5" y="536.6" font-size="13" fill="#000" >r = -0.3744</text>
<text x="431.5" y="553.5" font-size="13" fill="#000"><tspan font-style="italic">P</tspan> = 0.0087</text>
<line x1="355.6" y1="638.1" x2="454.75" y2="676.25" stroke="#000" stroke-width="1.9"/>
<circle cx="364.5" cy="552.5" r="4.2" fill="#a6002f"/>
<circle cx="391.75" cy="567.5" r="4.2" fill="#a6002f"/>
<circle cx="360" cy="605" r="4.2" fill="#a6002f"/>
<circle cx="394.5" cy="617" r="4.2" fill="#a6002f"/>
<circle cx="359.75" cy="622.5" r="4.2" fill="#a6002f"/>
<circle cx="408.5" cy="628.75" r="4.2" fill="#a6002f"/>
<circle cx="380" cy="633.1" r="4.2" fill="#a6002f"/>
<circle cx="387.5" cy="634.4" r="4.2" fill="#a6002f"/>
<circle cx="388.75" cy="640.6" r="4.2" fill="#a6002f"/>
<circle cx="390.6" cy="645" r="4.2" fill="#a6002f"/>
<circle cx="416.9" cy="646.9" r="4.2" fill="#a6002f"/>
<circle cx="427.5" cy="659" r="4.2" fill="#a6002f"/>
<circle cx="362.25" cy="650" r="4.2" fill="#a6002f"/>
<circle cx="358.75" cy="655" r="4.2" fill="#a6002f"/>
<circle cx="364.4" cy="654.4" r="4.2" fill="#a6002f"/>
<circle cx="355.6" cy="660.6" r="4.2" fill="#a6002f"/>
<circle cx="371.25" cy="651.9" r="4.2" fill="#a6002f"/>
<circle cx="374.4" cy="651.25" r="4.2" fill="#a6002f"/>
<circle cx="380" cy="649.4" r="4.2" fill="#a6002f"/>
<circle cx="384.4" cy="650" r="4.2" fill="#a6002f"/>
<circle cx="370" cy="666.25" r="4.2" fill="#a6002f"/>
<circle cx="376.25" cy="665.25" r="4.2" fill="#a6002f"/>
<circle cx="361.9" cy="673.75" r="4.2" fill="#a6002f"/>
<circle cx="386.25" cy="666.25" r="4.2" fill="#a6002f"/>
<circle cx="390" cy="668.75" r="4.2" fill="#a6002f"/>
<circle cx="395" cy="663.75" r="4.2" fill="#a6002f"/>
<circle cx="398.75" cy="658.75" r="4.2" fill="#a6002f"/>
<circle cx="401.25" cy="653.1" r="4.2" fill="#a6002f"/>
<circle cx="395" cy="678.1" r="4.2" fill="#a6002f"/>
<circle cx="400" cy="673.75" r="4.2" fill="#a6002f"/>
<circle cx="401.9" cy="653.1" r="4.2" fill="#a6002f"/>
<circle cx="405" cy="651.25" r="4.2" fill="#a6002f"/>
<circle cx="406.25" cy="661.25" r="4.2" fill="#a6002f"/>
<circle cx="411.25" cy="665" r="4.2" fill="#a6002f"/>
<circle cx="392.5" cy="665" r="4.2" fill="#a6002f"/>
<circle cx="418.75" cy="669.4" r="4.2" fill="#a6002f"/>
<circle cx="402.5" cy="672.5" r="4.2" fill="#a6002f"/>
<circle cx="408.75" cy="675" r="4.2" fill="#a6002f"/>
<circle cx="416.25" cy="675.6" r="4.2" fill="#a6002f"/>
<circle cx="432.5" cy="674.4" r="4.2" fill="#a6002f"/>
<circle cx="434.4" cy="672.5" r="4.2" fill="#a6002f"/>
<circle cx="442.5" cy="664.4" r="4.2" fill="#a6002f"/>
<circle cx="450" cy="666.9" r="4.2" fill="#a6002f"/>
<circle cx="456.25" cy="667.75" r="4.2" fill="#a6002f"/>
<circle cx="398" cy="670" r="4.2" fill="#a6002f"/>
<circle cx="405" cy="668" r="4.2" fill="#a6002f"/>
</svg></body></html>
